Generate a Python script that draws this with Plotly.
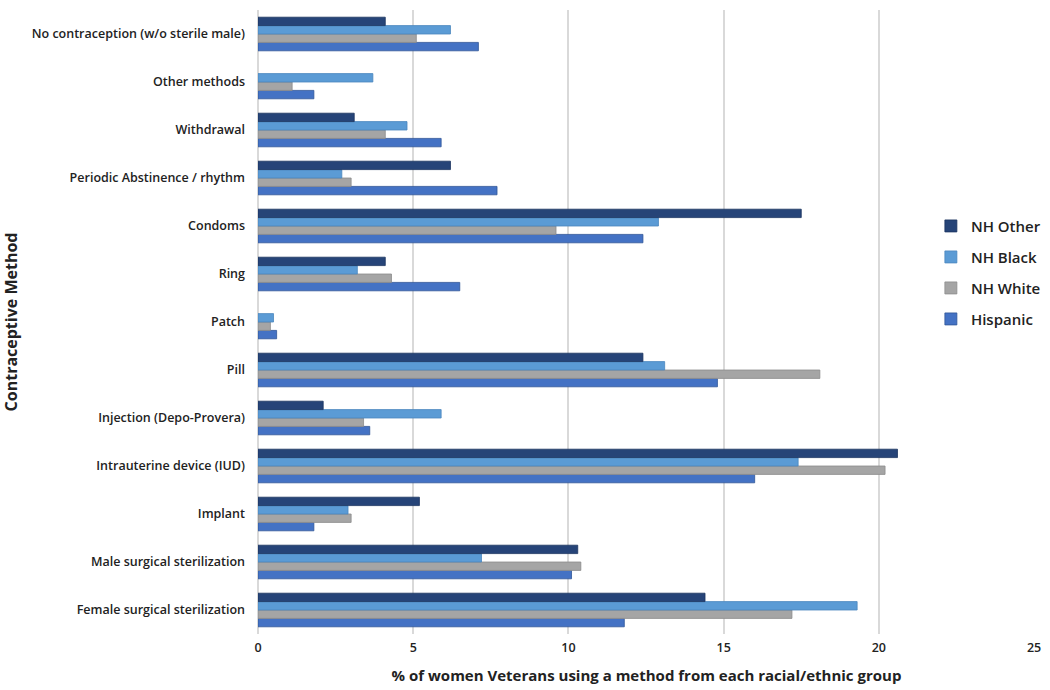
import plotly.graph_objects as go

categories = [
    "Female surgical sterilization",
    "Male surgical sterilization",
    "Implant",
    "Intrauterine device (IUD)",
    "Injection (Depo-Provera)",
    "Pill",
    "Patch",
    "Ring",
    "Condoms",
    "Periodic Abstinence / rhythm",
    "Withdrawal",
    "Other methods",
    "No contraception (w/o sterile male)",
]

hispanic = [11.8, 10.1, 1.8, 16.0, 3.6, 14.8, 0.6, 6.5, 12.4, 7.7, 5.9, 1.8, 7.1]
nh_white = [17.2, 10.4, 3.0, 20.2, 3.4, 18.1, 0.4, 4.3, 9.6, 3.0, 4.1, 1.1, 5.1]
nh_black = [19.3, 7.2, 2.9, 17.4, 5.9, 13.1, 0.5, 3.2, 12.9, 2.7, 4.8, 3.7, 6.2]
nh_other = [14.4, 10.3, 5.2, 20.6, 2.1, 12.4, None, 4.1, 17.5, 6.2, 3.1, None, 4.1]

series = [
    ("Hispanic", hispanic, "#4472C4", "#2F5597", 4),
    ("NH White", nh_white, "#A5A5A5", "#8C8C8C", 3),
    ("NH Black", nh_black, "#5B9BD5", "#4A86BE", 2),
    ("NH Other", nh_other, "#264478", "#1B3460", 1),
]

x_ticks = [0, 5, 10, 15, 20, 25]

fig = go.Figure()
for name, vals, col, edge, rank in series:
    fig.add_trace(go.Bar(
        y=categories, x=vals, name=name, orientation="h",
        legendgroup=name, legendrank=rank,
        marker=dict(color=col, line=dict(color=edge, width=0.8)),
    ))

font_family = "Open Sans, Lato, sans-serif"
fig.update_layout(
    width=1050, height=690,
    barmode="group", bargap=0.30, bargroupgap=0,
    paper_bgcolor="white", plot_bgcolor="white",
    margin=dict(l=258, r=15, t=10, b=56, autoexpand=False),
    font=dict(family=font_family, color="#222222", size=12),
    legend=dict(
        traceorder="grouped", x=0.866, y=0.68, xanchor="left", yanchor="top",
        font=dict(size=15, weight=600, color="#222222"),
        bgcolor="rgba(0,0,0,0)", itemwidth=30, tracegroupgap=8.5,
    ),
    showlegend=True,
)
fig.update_xaxes(
    range=[0, 25.03], tickvals=x_ticks, ticktext=[str(t) for t in x_ticks],
    showgrid=True, gridcolor="#D9D9D9", gridwidth=2,
    zeroline=True, zerolinecolor="#D9D9D9", zerolinewidth=2,
    showline=False, ticks="", automargin=False, ticklabelstandoff=4,
    tickfont=dict(size=12.5, weight=600, color="#222222"),
    title=dict(text="% of women Veterans using a method from each racial/ethnic group",
               font=dict(size=15, weight=700, color="#222222"), standoff=15),
)
fig.update_yaxes(
    type="category", categoryorder="array", categoryarray=categories,
    showgrid=False, showline=False, ticks="", ticklabelstandoff=12,
    automargin=False,
    tickfont=dict(size=12.5, weight=600, color="#222222"),
    title=dict(text="Contraceptive Method",
               font=dict(size=16, weight=700, color="#222222"), standoff=50),
)
fig.write_html("out.html", config={"displayModeBar": False},
               post_script="document.body.style.margin='0';")
